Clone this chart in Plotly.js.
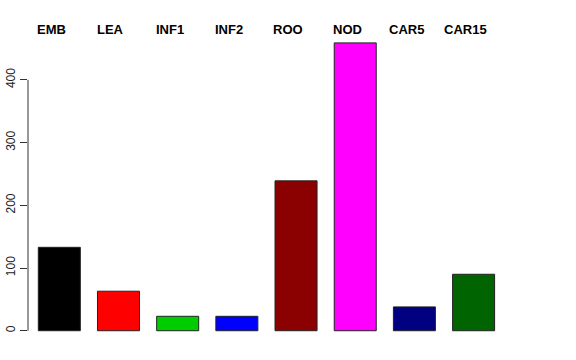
<!DOCTYPE html>
<html><head><meta charset="utf-8">
<script src="https://cdn.plot.ly/plotly-3.0.1.min.js"></script>
<style>html,body{margin:0;padding:0;background:#fff;}#chart{width:576px;height:360px;}</style>
</head><body><div id="chart"></div>
<script>
var categories = ["EMB","LEA","INF1","INF2","ROO","NOD","CAR5","CAR15"];
var values = [133, 63, 23, 23, 239, 459, 38, 90];
var barColors = ["#000000","#FF0000","#00CD00","#0000FF","#8B0000","#FF00FF","#000080","#006400"];
var yTicks = [0, 100, 200, 300, 400];

var trace = {
  type: "bar",
  x: categories,
  y: values,
  marker: {color: barColors, line: {color: "#222", width: 1}},
  hoverinfo: "none"
};

var annotations = categories.map(function(c){
  return {x: c, xref: "x", y: 0.969, yref: "paper", text: "<b>"+c+"</b>",
          showarrow: false, xanchor: "center", yanchor: "middle", xshift: -8,
          font: {family: "Liberation Sans, Arial, sans-serif", size: 13, color: "#000"}};
});

var layout = {
  width: 576, height: 360,
  margin: {l: 28, r: 16, t: 20, b: 20},
  paper_bgcolor: "#fff", plot_bgcolor: "#fff",
  showlegend: false,
  bargap: 0.29,
  xaxis: {range: [-0.529, 8.46], visible: false, fixedrange: true},
  yaxis: {range: [-14.8, 495.5], tickvals: yTicks, ticktext: yTicks.map(String),
          ticks: "outside", ticklen: 7, tickcolor: "#333", tickwidth: 1,
          tickangle: -90, showgrid: false, zeroline: false, showline: false,
          tickfont: {family: "Liberation Sans, Arial, sans-serif", size: 12, color: "#222"}},
  shapes: [{type: "line", xref: "paper", x0: 0, x1: 0, yref: "y", y0: yTicks[0], y1: yTicks[yTicks.length-1],
            line: {color: "#333", width: 1}}],
  annotations: annotations
};
Plotly.newPlot("chart", [trace], layout, {staticPlot: true, displayModeBar: false});
</script></body></html>
